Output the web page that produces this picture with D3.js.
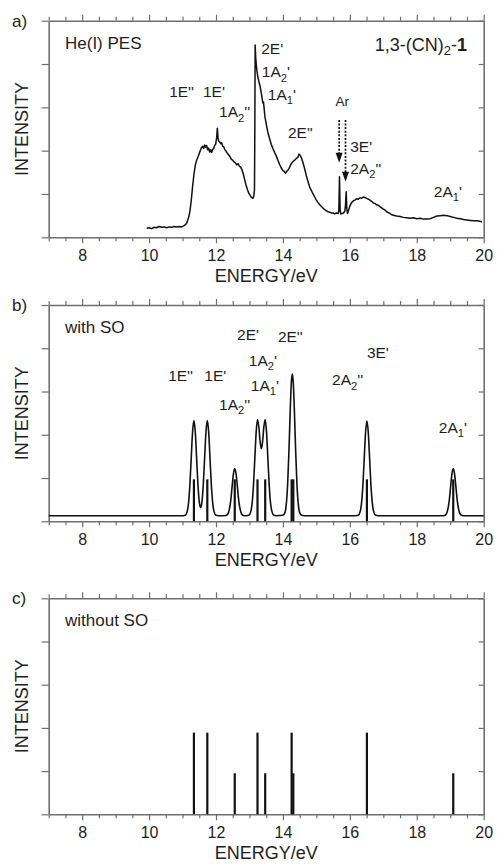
<!DOCTYPE html>
<html><head><meta charset="utf-8">
<script src="https://cdn.jsdelivr.net/npm/d3@7"></script>
<style>
body{margin:0;background:#fff}
svg{display:block}
text{font-family:"Liberation Sans",Arial,Helvetica,sans-serif;fill:#1e1e1e}
</style>
</head><body><svg id="chart" width="497" height="866"></svg>
<script>
// ---------------- DATA ----------------
const xTickValues = [8, 10, 12, 14, 16, 18, 20];
const yTickValues = [0, 1, 2, 3, 4, 5];

// a) He(I) photoelectron spectrum (digitised)
const pesEnergy = [9.93,10.00,10.08,10.15,10.22,10.30,10.38,10.45,10.52,10.60,10.68,10.75,10.82,10.90,10.97,11.05,11.12,11.18,11.22,11.26,11.30,11.34,11.38,11.42,11.47,11.52,11.56,11.60,11.63,11.66,11.69,11.72,11.75,11.78,11.81,11.84,11.87,11.90,11.93,11.96,11.99,12.02,12.04,12.06,12.08,12.11,12.14,12.17,12.20,12.23,12.26,12.29,12.32,12.35,12.38,12.42,12.46,12.50,12.54,12.58,12.62,12.66,12.70,12.74,12.78,12.82,12.86,12.90,12.94,12.98,13.02,13.06,13.10,13.13,13.15,13.16,13.17,13.19,13.22,13.25,13.28,13.32,13.36,13.40,13.42,13.46,13.50,13.55,13.60,13.65,13.70,13.75,13.80,13.85,13.90,13.95,14.00,14.04,14.08,14.12,14.16,14.20,14.25,14.30,14.35,14.40,14.45,14.48,14.51,14.55,14.60,14.65,14.70,14.75,14.80,14.85,14.90,14.95,15.00,15.05,15.10,15.15,15.20,15.25,15.30,15.35,15.40,15.45,15.50,15.55,15.60,15.65,15.67,15.69,15.71,15.73,15.77,15.81,15.85,15.87,15.89,15.91,15.93,15.96,16.00,16.05,16.10,16.15,16.20,16.25,16.30,16.35,16.40,16.45,16.50,16.55,16.60,16.65,16.70,16.75,16.80,16.85,16.90,16.95,17.00,17.05,17.10,17.15,17.20,17.25,17.30,17.40,17.50,17.60,17.70,17.80,17.90,18.00,18.10,18.20,18.30,18.40,18.50,18.60,18.70,18.80,18.90,19.00,19.10,19.20,19.30,19.40,19.50,19.60,19.70,19.80,19.95];
const pesIntensity = [0.21,0.22,0.20,0.23,0.22,0.25,0.23,0.24,0.22,0.24,0.23,0.25,0.24,0.25,0.24,0.27,0.32,0.45,0.60,0.85,1.17,1.45,1.66,1.78,1.87,1.98,2.06,2.10,2.05,2.13,2.08,2.12,2.02,2.06,1.97,2.02,1.96,2.03,2.05,2.12,2.15,2.30,2.52,2.30,2.22,2.20,2.16,2.18,2.10,2.09,2.03,2.00,1.96,1.93,1.90,1.86,1.80,1.78,1.74,1.72,1.67,1.70,1.64,1.62,1.55,1.45,1.32,1.20,1.10,1.02,0.97,0.92,0.90,0.95,1.10,2.50,4.44,4.10,3.86,3.70,3.60,3.48,3.30,3.10,3.12,2.80,2.62,2.42,2.28,2.15,2.05,1.96,1.88,1.78,1.68,1.60,1.54,1.52,1.48,1.53,1.56,1.62,1.70,1.75,1.78,1.82,1.85,1.92,1.90,1.84,1.72,1.58,1.42,1.28,1.16,1.08,1.00,0.93,0.86,0.80,0.75,0.71,0.67,0.64,0.61,0.59,0.58,0.56,0.56,0.54,0.56,0.55,0.60,1.40,0.62,0.54,0.55,0.56,0.60,0.75,1.05,0.65,0.55,0.62,0.72,0.80,0.84,0.86,0.89,0.88,0.91,0.90,0.93,0.92,0.90,0.88,0.86,0.83,0.79,0.78,0.75,0.74,0.71,0.68,0.65,0.63,0.59,0.57,0.55,0.52,0.51,0.49,0.48,0.46,0.45,0.44,0.45,0.43,0.44,0.42,0.42,0.43,0.46,0.49,0.50,0.51,0.50,0.48,0.46,0.44,0.43,0.41,0.40,0.39,0.38,0.38,0.36];

// Ar calibration arrows
const arArrowEnergy = [15.68, 15.87];
const arArrowTip = [1.72, 1.28];
const arArrowStart = [2.71, 2.71];

// b) simulated spectrum with spin-orbit coupling (digitised)
const simEnergy = [7.00,11.02,11.08,11.14,11.18,11.22,11.26,11.30,11.34,11.38,11.42,11.46,11.50,11.54,11.58,11.62,11.66,11.70,11.74,11.78,11.82,11.86,11.90,11.94,12.00,12.08,12.30,12.36,12.40,12.44,12.48,12.52,12.56,12.60,12.64,12.68,12.72,12.76,12.82,12.90,12.98,13.04,13.08,13.12,13.16,13.20,13.24,13.28,13.32,13.355,13.39,13.43,13.47,13.51,13.55,13.59,13.63,13.67,13.73,13.80,14.00,14.06,14.10,14.14,14.18,14.22,14.25,14.28,14.31,14.34,14.38,14.42,14.46,14.50,14.56,14.64,16.17,16.25,16.31,16.35,16.39,16.43,16.47,16.51,16.55,16.59,16.63,16.67,16.71,16.77,16.85,18.75,18.83,18.89,18.93,18.97,19.01,19.05,19.09,19.13,19.17,19.21,19.25,19.29,19.35,19.43,20.00];
const simIntensity = [0.13,0.13,0.14,0.23,0.43,0.85,1.47,2.07,2.33,2.07,1.47,0.85,0.45,0.32,0.45,0.85,1.47,2.07,2.33,2.07,1.47,0.85,0.43,0.23,0.14,0.13,0.135,0.18,0.28,0.48,0.79,1.09,1.22,1.09,0.79,0.48,0.28,0.18,0.135,0.13,0.14,0.23,0.42,0.84,1.45,2.06,2.35,2.18,1.83,1.68,1.83,2.18,2.35,2.06,1.45,0.84,0.42,0.23,0.14,0.13,0.14,0.20,0.39,0.84,1.63,2.61,3.19,3.41,3.19,2.61,1.63,0.84,0.39,0.20,0.14,0.13,0.13,0.14,0.23,0.43,0.84,1.46,2.06,2.32,2.06,1.46,0.84,0.43,0.23,0.14,0.13,0.13,0.135,0.18,0.28,0.48,0.79,1.09,1.22,1.09,0.79,0.48,0.28,0.18,0.135,0.13,0.13];

// stick spectra
const stickEnergy = [11.34, 11.74, 12.56, 13.24, 13.47, 14.26, 14.31, 16.51, 19.09];
const stickWithSO = [0.97, 0.97, 0.97, 0.97, 0.97, 0.97, 0.97, 0.97, 0.97];
const stickWithoutSO = [1.89, 1.89, 0.95, 1.89, 0.95, 1.89, 0.95, 1.89, 0.95];

// band assignments (annotation anchors in data units)
const bandNamesA = ["1E''", "1E'", "1A_2''", "2E'", "1A_2'", "1A_1'", "2E''", "3E'", "2A_2''", "2A_1'"];
const bandEnergyA = [10.60, 11.61, 12.09, 13.35, 13.37, 13.55, 14.15, 16.01, 16.01, 18.51];
const bandLevelA  = [3.25, 3.25, 2.77, 4.22, 3.69, 3.18, 2.30, 1.96, 1.47, 0.94];

const bandNamesB = ["1E''", "1E'", "1A_2''", "2E'", "1A_2'", "1A_1'", "2E''", "3E'", "2A_2''", "2A_1'"];
const bandEnergyB = [10.57, 11.65, 12.09, 12.63, 12.98, 13.04, 13.85, 16.51, 15.47, 18.66];
const bandLevelB  = [3.25, 3.25, 2.58, 4.18, 3.60, 3.02, 4.15, 3.78, 3.14, 2.05];

// ---------------- DRAWING ----------------
const svg = d3.select("#chart");
svg.append("rect").attr("width", 497).attr("height", 866).attr("fill", "#fff");

const x = d3.scaleLinear().domain([7, 20]).range([48.7, 483.7]);
const axisColor = "#6f6f6f";
const minorTicks = d3.range(7, 20.01, 0.5).filter(v => !xTickValues.includes(v));

function richText(t, str, size) {
  const parts = str.split("_");
  t.append("tspan").text(parts[0]);
  if (parts.length > 1) {
    t.append("tspan").attr("font-size", size * 0.72).attr("dy", size * 0.3).text(parts[1][0]);
    const rest = parts[1].slice(1);
    if (rest) t.append("tspan").attr("dy", -size * 0.3).text(rest);
  }
}

function styleAxis(g, keepText) {
  g.select(".domain").attr("stroke", axisColor).attr("stroke-width", 1.6);
  g.selectAll(".tick line").attr("stroke", axisColor).attr("stroke-width", 1.2);
  if (keepText) {
    g.selectAll(".tick text").attr("font-size", 16).attr("fill", "#1e1e1e")
      .attr("font-family", '"Liberation Sans",Arial,sans-serif');
  } else {
    g.selectAll(".tick text").remove();
  }
}

function panel(top, bottom, letter, caption) {
  const y = d3.scaleLinear().domain([0, 5]).range([bottom, top]);
  const g = svg.append("g");

  // bottom axis
  g.append("g").attr("transform", `translate(0,${bottom})`)
    .call(d3.axisBottom(x).tickValues(xTickValues).tickSize(6).tickSizeOuter(0).tickPadding(6.6).tickFormat(d3.format("d")))
    .call(a => styleAxis(a, true));
  g.append("g").attr("transform", `translate(0,${bottom})`)
    .call(d3.axisBottom(x).tickValues(minorTicks).tickSize(4).tickSizeOuter(0).tickFormat(""))
    .call(a => { styleAxis(a, false); a.select(".domain").remove(); });
  // top axis
  g.append("g").attr("transform", `translate(0,${top})`)
    .call(d3.axisTop(x).tickValues(xTickValues).tickSize(6).tickSizeOuter(0).tickFormat(""))
    .call(a => styleAxis(a, false));
  g.append("g").attr("transform", `translate(0,${top})`)
    .call(d3.axisTop(x).tickValues(minorTicks).tickSize(4).tickSizeOuter(0).tickFormat(""))
    .call(a => { styleAxis(a, false); a.select(".domain").remove(); });
  // left axis
  g.append("g").attr("transform", `translate(${x(7)},0)`)
    .call(d3.axisLeft(y).tickValues(yTickValues).tickSize(7).tickSizeOuter(0).tickFormat(""))
    .call(a => styleAxis(a, false));
  // right axis (ticks inward)
  g.append("g").attr("transform", `translate(${x(20)},0)`)
    .call(d3.axisRight(y).tickValues(yTickValues).tickSize(-5).tickSizeOuter(0).tickFormat(""))
    .call(a => styleAxis(a, false));

  // axis titles
  g.append("text").attr("x", (x(7) + x(20)) / 2).attr("y", bottom + 44.5)
    .attr("text-anchor", "middle").attr("font-size", 18).text("ENERGY/eV");
  g.append("text").attr("transform", `translate(27.5,${(top + bottom) / 2}) rotate(-90)`)
    .attr("text-anchor", "middle").attr("font-size", 18).text("INTENSITY");

  // panel letter and caption
  g.append("text").attr("x", 12).attr("y", top + 6).attr("font-size", 17).text(letter);
  g.append("text").attr("x", 65).attr("y", top + 28).attr("font-size", 17).text(caption);
  return {g, y};
}

function bandLabels(p, names, energies, levels) {
  names.forEach((n, i) => {
    const t = p.g.append("text").attr("x", x(energies[i])).attr("y", p.y(levels[i])).attr("font-size", 15.5);
    richText(t, n, 15.5);
  });
}

function sticks(p, heights, width) {
  p.g.append("g").selectAll("line").data(stickEnergy).join("line")
    .attr("x1", d => x(d)).attr("x2", d => x(d))
    .attr("y1", p.y(0)).attr("y2", (d, i) => p.y(heights[i]))
    .attr("stroke", "#111").attr("stroke-width", width);
}

// ----- panel a -----
const pa = panel(20.7, 237.3, "a)", "He(I) PES");
const pesData = pesEnergy.map((e, i) => [e, pesIntensity[i]]);
pa.g.append("path").datum(pesData)
  .attr("fill", "none").attr("stroke", "#111").attr("stroke-width", 1.5).attr("stroke-linejoin", "round")
  .attr("d", d3.line().x(d => x(d[0])).y(d => pa.y(d[1])));
bandLabels(pa, bandNamesA, bandEnergyA, bandLevelA);
// compound name
const cn = pa.g.append("text").attr("x", 467).attr("y", 51).attr("text-anchor", "end").attr("font-size", 18);
cn.append("tspan").text("1,3-(CN)");
cn.append("tspan").attr("font-size", 13).attr("dy", 4).text("2");
cn.append("tspan").attr("dy", -4).text("-");
cn.append("tspan").attr("font-weight", "bold").text("1");
// Ar label & arrows
pa.g.append("text").attr("x", x(d3.mean(arArrowEnergy))).attr("y", pa.y(3.04))
  .attr("text-anchor", "middle").attr("font-size", 13.5).text("Ar");
arArrowEnergy.forEach((e, i) => {
  const xs = x(e), y0 = pa.y(arArrowStart[i]), yt = pa.y(arArrowTip[i]);
  pa.g.append("line").attr("x1", xs).attr("x2", xs).attr("y1", y0).attr("y2", yt - 8)
    .attr("stroke", "#111").attr("stroke-width", 1.7).attr("stroke-dasharray", "2,1.6");
  pa.g.append("path").attr("d", `M${xs - 3.5},${yt - 10}L${xs + 3.5},${yt - 10}L${xs},${yt}Z`).attr("fill", "#111");
});

// ----- panel b -----
const pb = panel(305, 521.3, "b)", "with SO");
const simData = simEnergy.map((e, i) => [e, simIntensity[i]]);
pb.g.append("path").datum(simData)
  .attr("fill", "none").attr("stroke", "#111").attr("stroke-width", 1.6)
  .attr("d", d3.line().curve(d3.curveMonotoneX).x(d => x(d[0])).y(d => pb.y(d[1])));
sticks(pb, stickWithSO, 2.2);
bandLabels(pb, bandNamesB, bandEnergyB, bandLevelB);

// ----- panel c -----
const pc = panel(598.3, 814.3, "c)", "without SO");
sticks(pc, stickWithoutSO, 2.2);
</script>
</body></html>
